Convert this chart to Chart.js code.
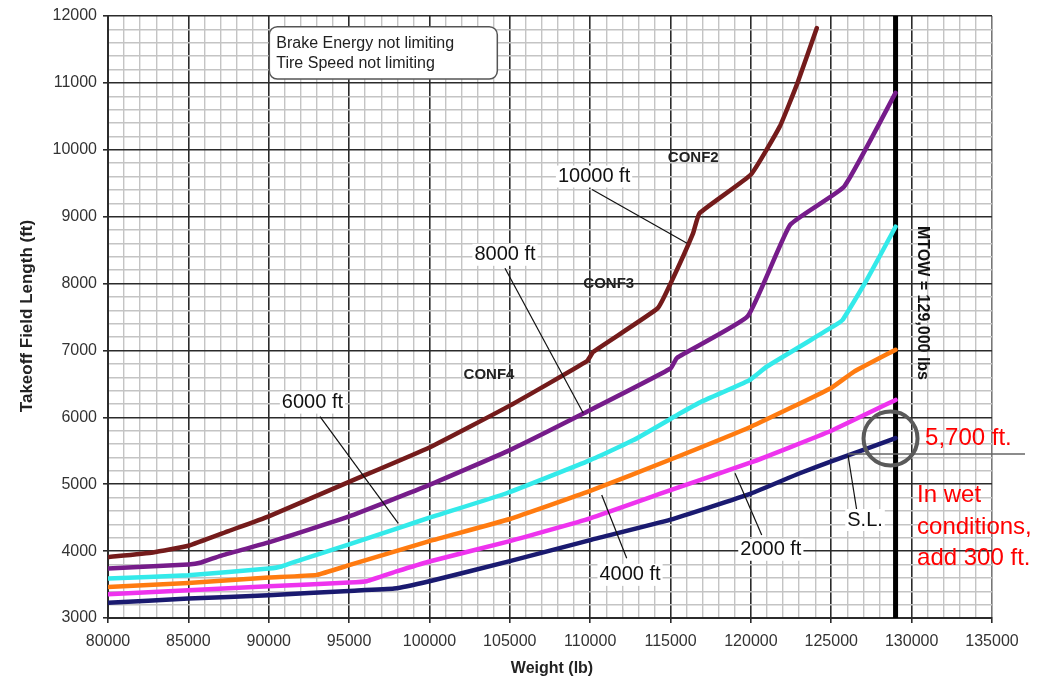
<!DOCTYPE html>
<html>
<head>
<meta charset="utf-8">
<script src="https://cdn.jsdelivr.net/npm/chart.js@4.4.1/dist/chart.umd.min.js"></script>
<style>
html,body{margin:0;padding:0;background:#fff}
#wrap{width:1056px;height:678px;position:relative}
</style>
</head>
<body>
<div id="wrap"><canvas id="c" width="1056" height="678"></canvas></div>
<script>
const FONT='"Liberation Sans", Arial, sans-serif';

// weight (lb) and takeoff field length (ft)
const w10000=[80000,82800,85000,87500,90000,95000,100000,105000,109800,110200,114200,115000,116400,116800,120000,121800,122900,124100];
const l10000=[3910,3980,4080,4300,4520,5035,5550,6175,6840,6980,7630,8000,8750,9050,9630,10350,11000,11820];
const w8000=[80000,85000,85800,87000,90000,95000,100000,105000,109600,115000,115400,119800,122450,125800,129000];
const l8000=[3740,3800,3830,3930,4130,4520,4990,5510,6060,6730,6890,7510,8880,9450,10850];
const w6000=[80000,85000,90000,90800,92000,95000,98200,100000,104800,110000,112700,115600,116800,119900,121000,125100,125700,127200,129000];
const l6000=[3590,3640,3740,3770,3870,4100,4355,4500,4865,5360,5660,6060,6220,6555,6760,7355,7455,8050,8850];
const w4000=[80000,85000,90000,93000,95000,100000,105000,110000,115000,120000,125000,126400,129000];
const l4000=[3462,3525,3605,3645,3790,4150,4480,4900,5370,5860,6440,6680,7010];
const w2000=[80000,85000,90000,95000,96100,98000,100000,105000,110000,115000,120000,125000,129000];
const l2000=[3355,3415,3475,3530,3550,3700,3845,4150,4490,4910,5325,5800,6260];
const wSL=[80000,85000,90000,95000,97800,100000,105000,110000,115000,120000,123000,125000,129000];
const lSL=[3227,3290,3340,3405,3440,3550,3850,4165,4470,4860,5160,5340,5690];
const mtow=129000;

const xMin=80000,xMax=135000,yMin=3000,yMax=12000;

// annotation texts, anchored in data units
const curveLabels=[['10000 ft',110240,9600],['8000 ft',104700,8430],['6000 ft',92720,6220],['4000 ft',112480,3645],['2000 ft',121240,4020],['S.L.',127100,4465]];
const leaders=[[110115,9406,116025,8602],[104700,8228,109573,6060],[93191,6010,98063,4416],[110718,4839,112273,3893],[119012,5163,120673,4241],[126043,5430,126603,4585]];
const confLabels=[['CONF2',116412,9877],['CONF3',111154,7993],['CONF4',103706,6633]];

function pts(w,l){return w.map((x,i)=>({x:x,y:l[i]}));}
function curve(w,l,color){
  return {data:pts(w,l),borderColor:color,borderWidth:4.5,pointRadius:0,tension:0.12,fill:false,borderJoinStyle:'round',borderCapStyle:'round'};
}

const notes={
  id:'notes',
  afterDatasetsDraw(chart){
    const {ctx,scales:{x,y}}=chart;
    const px=v=>x.getPixelForValue(v), py=v=>y.getPixelForValue(v);
    ctx.save();
    // leader lines
    ctx.strokeStyle='#111';ctx.lineWidth=1.2;
    leaders.forEach(l=>{
      ctx.beginPath();ctx.moveTo(px(l[0]),py(l[1]));ctx.lineTo(px(l[2]),py(l[3]));ctx.stroke();
    });
    // pointer line at the MTOW / sea level intersection
    ctx.strokeStyle='#666';ctx.lineWidth=1.5;
    ctx.beginPath();ctx.moveTo(px(126043),py(5452));ctx.lineTo(px(137055),py(5452));ctx.stroke();
    // curve labels with white backing
    ctx.font='20px '+FONT;ctx.textAlign='center';ctx.textBaseline='middle';
    curveLabels.forEach(c=>{
      const cx=px(c[1]),cy=py(c[2]),tw=ctx.measureText(c[0]).width;
      ctx.fillStyle='#fff';ctx.fillRect(cx-tw/2-2,cy-11,tw+4,22);
      ctx.fillStyle='#111';ctx.fillText(c[0],cx,cy);
    });
    ctx.font='bold 15px '+FONT;ctx.fillStyle='#222';
    confLabels.forEach(c=>ctx.fillText(c[0],px(c[1]),py(c[2])));
    // note box
    const bx=px(90036),by=py(11840),bw=px(104222)-bx,bh=py(11058)-by;
    ctx.fillStyle='#fff';ctx.strokeStyle='#555';ctx.lineWidth=1.5;
    ctx.beginPath();ctx.roundRect(bx,by,bw,bh,8);ctx.fill();ctx.stroke();
    ctx.fillStyle='#222';ctx.font='16px '+FONT;ctx.textAlign='left';
    ctx.fillText('Brake Energy not limiting',bx+7,by+16.5);
    ctx.fillText('Tire Speed not limiting',bx+7,by+37);
    // MTOW label
    ctx.save();ctx.translate(px(130673),py(7709));ctx.rotate(Math.PI/2);
    ctx.textAlign='center';ctx.font='bold 16px '+FONT;ctx.fillStyle='#111';
    ctx.fillText('MTOW = 129,000 lbs',0,0);ctx.restore();
    // circle marker
    ctx.strokeStyle='#5a5a5a';ctx.lineWidth=4;
    ctx.beginPath();ctx.arc(px(128687),py(5684),27,0,Math.PI*2);ctx.stroke();
    // red notes
    ctx.fillStyle='#ff0000';ctx.font='24px '+FONT;ctx.textAlign='left';
    ctx.fillText('5,700 ft.',px(130834),py(5691));
    ctx.fillText('In wet',px(130336),py(4839));
    ctx.fillText('conditions,',px(130336),py(4361));
    ctx.fillText('add 300 ft.',px(130336),py(3897));
    // axis titles
    ctx.fillStyle='#222';ctx.font='bold 16px '+FONT;ctx.textAlign='center';
    ctx.fillText('Weight (lb)',552,669);
    ctx.save();ctx.translate(27,316);ctx.rotate(-Math.PI/2);
    ctx.font='bold 17px '+FONT;ctx.fillText('Takeoff Field Length (ft)',0,0);ctx.restore();
    ctx.restore();
  }
};

const isMajorX=v=>Math.round(v)%5000===0;
const isMajorY=v=>Math.round(v)%1000===0;

new Chart(document.getElementById('c'),{
  type:'line',
  data:{datasets:[
    curve(w10000,l10000,'#741b1b'),
    curve(w8000,l8000,'#761c8a'),
    curve(w6000,l6000,'#33eaea'),
    curve(w4000,l4000,'#ff7b10'),
    curve(w2000,l2000,'#ee33ee'),
    curve(wSL,lSL,'#1a1a70'),
    {data:[{x:mtow,y:yMin},{x:mtow,y:yMax}],borderColor:'#000',borderWidth:5,pointRadius:0,tension:0,fill:false}
  ]},
  options:{
    responsive:false,animation:false,
    layout:{padding:{top:16,right:64,left:0,bottom:0}},
    plugins:{legend:{display:false},tooltip:{enabled:false}},
    scales:{
      x:{type:'linear',min:xMin,max:xMax,
        afterFit:s=>{s.height=60;},
        ticks:{stepSize:1000,autoSkip:false,maxRotation:0,padding:9,color:'#333',font:{family:FONT,size:16},
          callback:v=>isMajorX(v)?String(v):''},
        grid:{color:c=>c.tick&&isMajorX(c.tick.value)?(c.tick.value===xMax?'#777':'#2b2b2b'):'#c4c4c4',
          lineWidth:c=>c.tick&&isMajorX(c.tick.value)?1.6:1.4,
          tickColor:c=>c.tick&&isMajorX(c.tick.value)?'#2b2b2b':'rgba(0,0,0,0)',tickLength:5},
        border:{color:'#2b2b2b',width:2}},
      y:{type:'linear',min:yMin,max:yMax,
        afterFit:s=>{s.width=108;},
        ticks:{stepSize:200,autoSkip:false,padding:6,color:'#333',font:{family:FONT,size:16},
          callback:v=>isMajorY(v)?String(v):''},
        grid:{color:c=>c.tick&&isMajorY(c.tick.value)?'#2b2b2b':'#c4c4c4',
          lineWidth:c=>c.tick&&isMajorY(c.tick.value)?1.6:1.4,
          tickColor:c=>c.tick&&isMajorY(c.tick.value)?'#2b2b2b':'rgba(0,0,0,0)',tickLength:5},
        border:{color:'#2b2b2b',width:2}}
    }
  },
  plugins:[notes]
});
</script>
</body>
</html>
